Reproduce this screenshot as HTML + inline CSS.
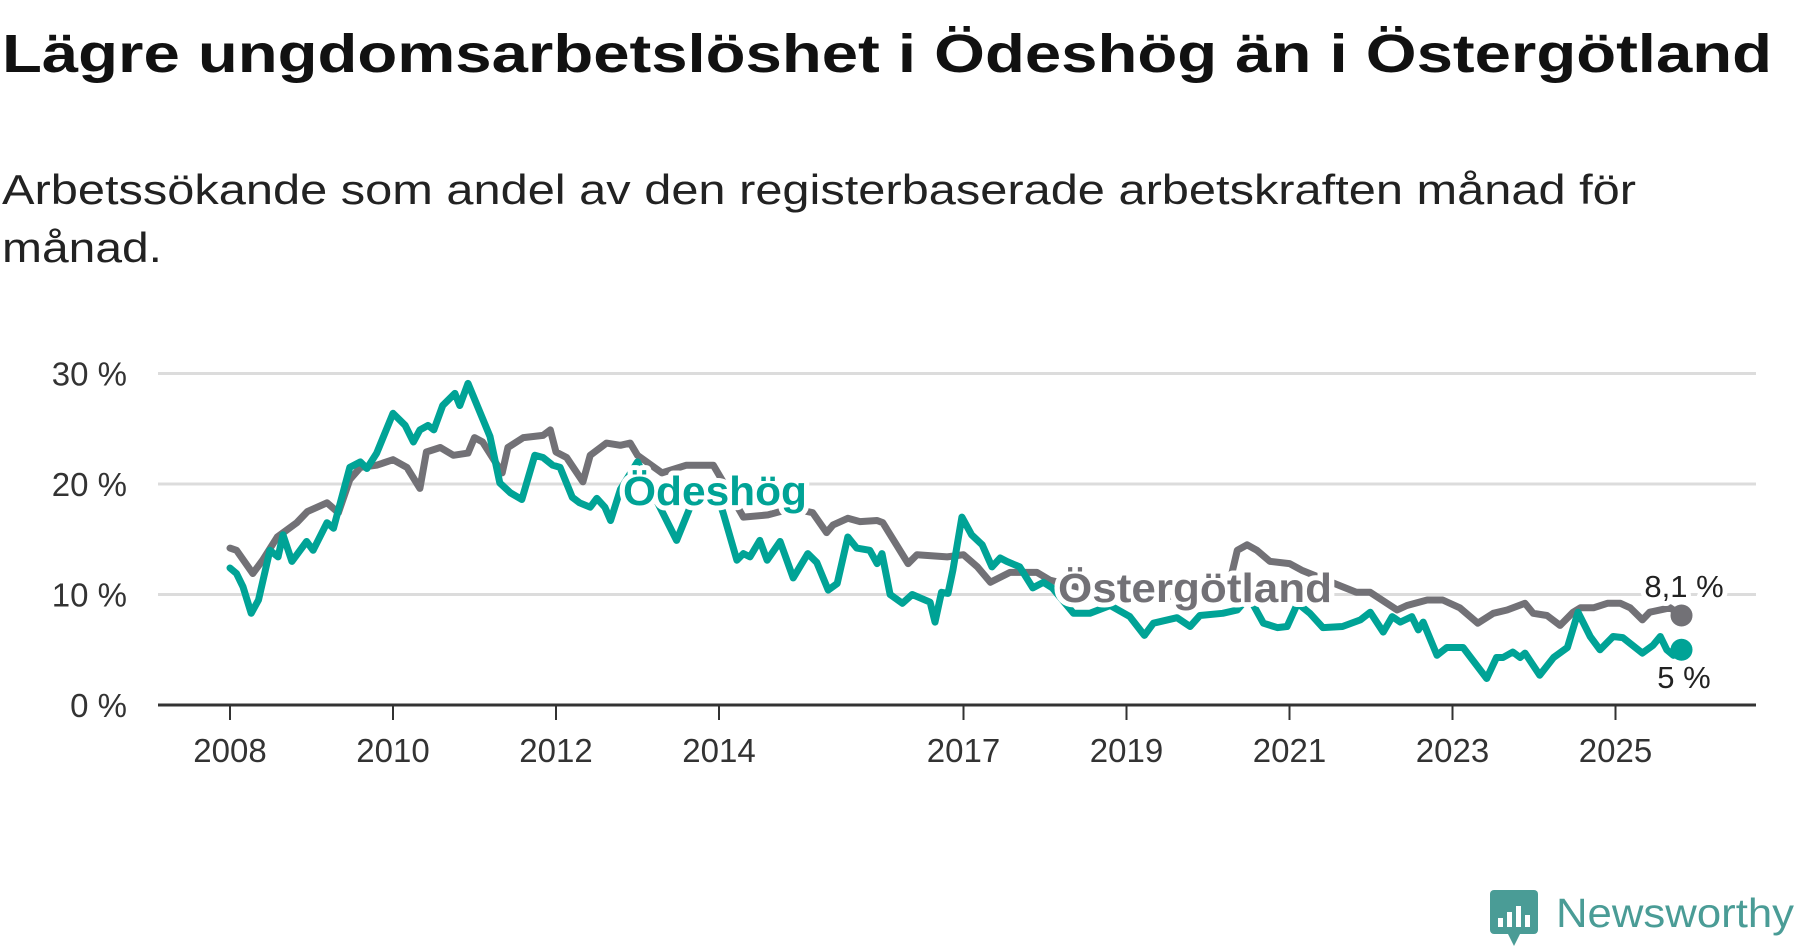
<!DOCTYPE html>
<html><head><meta charset="utf-8">
<style>
html,body{margin:0;padding:0;background:#fff;}
svg{display:block;font-family:"Liberation Sans",sans-serif;}
</style></head>
<body>
<svg id="chart" width="1800" height="948" viewBox="0 0 1800 948" xmlns="http://www.w3.org/2000/svg">
<text x="2" y="72" font-size="54" font-weight="bold" fill="#111" textLength="1770" lengthAdjust="spacingAndGlyphs">Lägre ungdomsarbetslöshet i Ödeshög än i Östergötland</text>
<text x="2" y="204" font-size="42" fill="#222" textLength="1634" lengthAdjust="spacingAndGlyphs">Arbetssökande som andel av den registerbaserade arbetskraften månad för</text>
<text x="2" y="262" font-size="42" fill="#222" textLength="160" lengthAdjust="spacingAndGlyphs">månad.</text>
<g id="grid"></g>
<g id="xaxis"></g>
<g id="series"></g>
<g id="labels"></g>
<g>
  <rect x="1490" y="890" width="48" height="44" rx="4" fill="#4a9c96"/>
  <polygon points="1508,934 1520,934 1514,946" fill="#4a9c96"/>
  <rect x="1498" y="918" width="5" height="9" fill="#fff"/>
  <rect x="1507" y="912" width="5" height="15" fill="#fff"/>
  <rect x="1516" y="906" width="5" height="21" fill="#fff"/>
  <rect x="1525" y="915" width="5" height="12" fill="#fff"/>
  <text x="1556" y="927" font-size="41" fill="#4a9c96" textLength="238" lengthAdjust="spacingAndGlyphs">Newsworthy</text>
</g>
</svg>
<script>
const yTicks = [0, 10, 20, 30];
const yTickLabels = ["0 %", "10 %", "20 %", "30 %"];
const xTicks = [2008, 2010, 2012, 2014, 2017, 2019, 2021, 2023, 2025];
const ostDates = [2008.0,2008.08,2008.28,2008.4,2008.58,2008.82,2008.95,2009.19,2009.33,2009.47,2009.6,2009.8,2010.0,2010.17,2010.33,2010.41,2010.58,2010.74,2010.92,2011.0,2011.1,2011.34,2011.41,2011.6,2011.84,2011.93,2012.0,2012.13,2012.33,2012.42,2012.62,2012.79,2012.91,2013.0,2013.3,2013.6,2013.93,2014.05,2014.3,2014.6,2014.9,2015.15,2015.32,2015.4,2015.58,2015.73,2015.94,2016.01,2016.32,2016.43,2016.8,2017.0,2017.17,2017.33,2017.57,2017.9,2018.06,2018.5,2019.0,2019.5,2020.0,2020.25,2020.36,2020.48,2020.6,2020.76,2021.0,2021.15,2021.65,2021.82,2021.99,2022.32,2022.44,2022.69,2022.88,2023.09,2023.31,2023.5,2023.67,2023.89,2023.99,2024.16,2024.32,2024.48,2024.57,2024.73,2024.9,2025.06,2025.18,2025.33,2025.42,2025.67,2025.81];
const ostValues = [14.2,14.0,11.9,13.1,15.2,16.5,17.5,18.3,17.4,20.4,21.5,21.7,22.2,21.5,19.6,22.9,23.3,22.6,22.8,24.2,23.8,21.0,23.3,24.2,24.4,24.9,22.9,22.4,20.2,22.6,23.7,23.5,23.7,22.6,21.0,21.7,21.7,20.2,17.0,17.2,17.8,17.4,15.6,16.3,16.9,16.6,16.7,16.5,12.8,13.6,13.4,13.6,12.5,11.1,12.0,12.0,11.3,10.5,9.5,9.8,10.3,10.6,14.0,14.5,14.0,13.0,12.8,12.2,10.7,10.2,10.2,8.6,9.0,9.5,9.5,8.8,7.4,8.3,8.6,9.2,8.3,8.1,7.2,8.4,8.8,8.8,9.2,9.2,8.8,7.7,8.4,8.8,8.1];
const odeDates = [2008.0,2008.08,2008.16,2008.26,2008.35,2008.49,2008.59,2008.65,2008.76,2008.94,2009.02,2009.19,2009.27,2009.47,2009.6,2009.68,2009.8,2010.0,2010.15,2010.25,2010.33,2010.43,2010.5,2010.61,2010.76,2010.82,2010.92,2011.19,2011.31,2011.44,2011.58,2011.74,2011.84,2011.96,2012.05,2012.2,2012.29,2012.42,2012.5,2012.6,2012.67,2012.79,2013.0,2013.2,2013.48,2013.75,2013.95,2014.05,2014.22,2014.3,2014.38,2014.5,2014.59,2014.75,2014.91,2015.09,2015.2,2015.34,2015.45,2015.58,2015.69,2015.85,2015.94,2016.0,2016.1,2016.25,2016.37,2016.59,2016.65,2016.73,2016.81,2016.87,2016.98,2017.1,2017.23,2017.35,2017.45,2017.53,2017.69,2017.85,2017.98,2018.09,2018.35,2018.55,2018.8,2019.04,2019.22,2019.33,2019.62,2019.78,2019.9,2020.18,2020.36,2020.5,2020.68,2020.85,2020.97,2021.1,2021.25,2021.41,2021.65,2021.87,2021.99,2022.15,2022.26,2022.36,2022.5,2022.58,2022.64,2022.81,2022.93,2023.13,2023.42,2023.54,2023.62,2023.74,2023.83,2023.89,2024.07,2024.24,2024.41,2024.54,2024.69,2024.81,2024.97,2025.09,2025.33,2025.46,2025.55,2025.63,2025.71,2025.81];
const odeValues = [12.4,11.9,10.7,8.3,9.5,14.0,13.4,15.4,13.0,14.8,14.0,16.5,16.0,21.5,22.0,21.4,22.8,26.4,25.3,23.8,24.9,25.3,24.9,27.1,28.2,27.1,29.1,24.3,20.1,19.2,18.6,22.6,22.4,21.7,21.5,18.8,18.3,17.9,18.7,17.9,16.7,19.5,22.0,19.0,14.9,19.8,19.5,17.4,13.1,13.7,13.4,14.9,13.1,14.8,11.5,13.7,12.9,10.4,11.0,15.2,14.2,14.0,12.8,13.7,10.0,9.2,10.0,9.3,7.5,10.2,10.1,12.2,17.0,15.4,14.5,12.5,13.3,13.0,12.5,10.6,11.1,10.6,8.3,8.3,9.0,8.0,6.3,7.4,7.9,7.1,8.1,8.3,8.6,9.8,7.4,7.0,7.1,9.2,8.3,7.0,7.1,7.7,8.4,6.6,8.0,7.5,8.0,6.8,7.5,4.5,5.2,5.2,2.4,4.3,4.3,4.8,4.3,4.7,2.7,4.3,5.2,8.4,6.2,5.0,6.2,6.1,4.7,5.4,6.2,5.0,4.5,5.0];

const NS = "http://www.w3.org/2000/svg";
const X0 = 230, PXY = 81.5, Y0 = 705, PXV = 11.05;
function xScale(t){ return X0 + (t - 2008) * PXY; }
function yScale(v){ return Y0 - v * PXV; }
function mk(tag, attrs, parent){ const e = document.createElementNS(NS, tag); for (const k in attrs) e.setAttribute(k, attrs[k]); parent.appendChild(e); return e; }

const grid = document.getElementById('grid');
yTicks.forEach((v, i) => {
  if (v > 0) {
    const l = mk('line', {x1:158, x2:1756, y1:yScale(v), y2:yScale(v), stroke:'#dcdcdc', 'stroke-width':3}, grid);
    
    
  }
  const t = mk('text', {x:127, y:yScale(v) + 12, 'font-size':33, fill:'#333', 'text-anchor':'end'}, grid);
  t.textContent = yTickLabels[i];
  
  
});
const xa = document.getElementById('xaxis');
const axl = mk('line', {x1:158, x2:1756, y1:Y0, y2:Y0, stroke:'#333', 'stroke-width':3}, xa);


xTicks.forEach(yr => {
  const x = xScale(yr);
  const tk = mk('line', {x1:x, x2:x, y1:Y0, y2:Y0 + 15, stroke:'#333', 'stroke-width':2}, xa);
  
  
  const t = mk('text', {x:x, y:762, 'font-size':33, fill:'#333', 'text-anchor':'middle'}, xa);
  t.textContent = String(yr);
  
  
});

const sg = document.getElementById('series');
function pathD(ds, vs){ return ds.map((d, i) => (i ? 'L' : 'M') + xScale(d).toFixed(1) + ',' + yScale(vs[i]).toFixed(1)).join(' '); }
const pOst = mk('path', {d:pathD(ostDates, ostValues), fill:'none', stroke:'#727176', 'stroke-width':7, 'stroke-linejoin':'round', 'stroke-linecap':'round'}, sg);


const pOde = mk('path', {d:pathD(odeDates, odeValues), fill:'none', stroke:'#00a396', 'stroke-width':7, 'stroke-linejoin':'round', 'stroke-linecap':'round'}, sg);


const lastO = ostDates.length - 1, lastD = odeDates.length - 1;
const d1 = mk('circle', {cx:xScale(ostDates[lastO]), cy:yScale(ostValues[lastO]), r:11, fill:'#727176'}, sg);


const d2 = mk('circle', {cx:xScale(odeDates[lastD]), cy:yScale(odeValues[lastD]), r:11, fill:'#00a396'}, sg);



const lg = document.getElementById('labels');
function label(txt, x, y, size, fill, bold, name, len){
  const a = {x:x, y:y, 'font-size':size, fill:fill, 'text-anchor':'middle', stroke:'#fff', 'stroke-width':10, 'paint-order':'stroke', 'stroke-linejoin':'round'};
  if (bold) a['font-weight'] = 'bold';
  if (len) { a.textLength = len; a.lengthAdjust = 'spacingAndGlyphs'; }
  const t = mk('text', a, lg);
  t.textContent = txt;
  
  
}
label('Ödeshög', 715, 505, 41, '#00a396', true, 'odeshog-series-label', 184);
label('Östergötland', 1195, 602, 41, '#727176', true, 'ostergotland-series-label', 274);
label(String(ostValues[lastO]).replace('.', ',') + ' %', 1684, 597, 31, '#222', false, 'ostergotland-end-value');
label(String(odeValues[lastD]).replace('.', ',').replace(',0','') + ' %', 1684, 688, 31, '#222', false, 'odeshog-end-value');
</script>
</body></html>
